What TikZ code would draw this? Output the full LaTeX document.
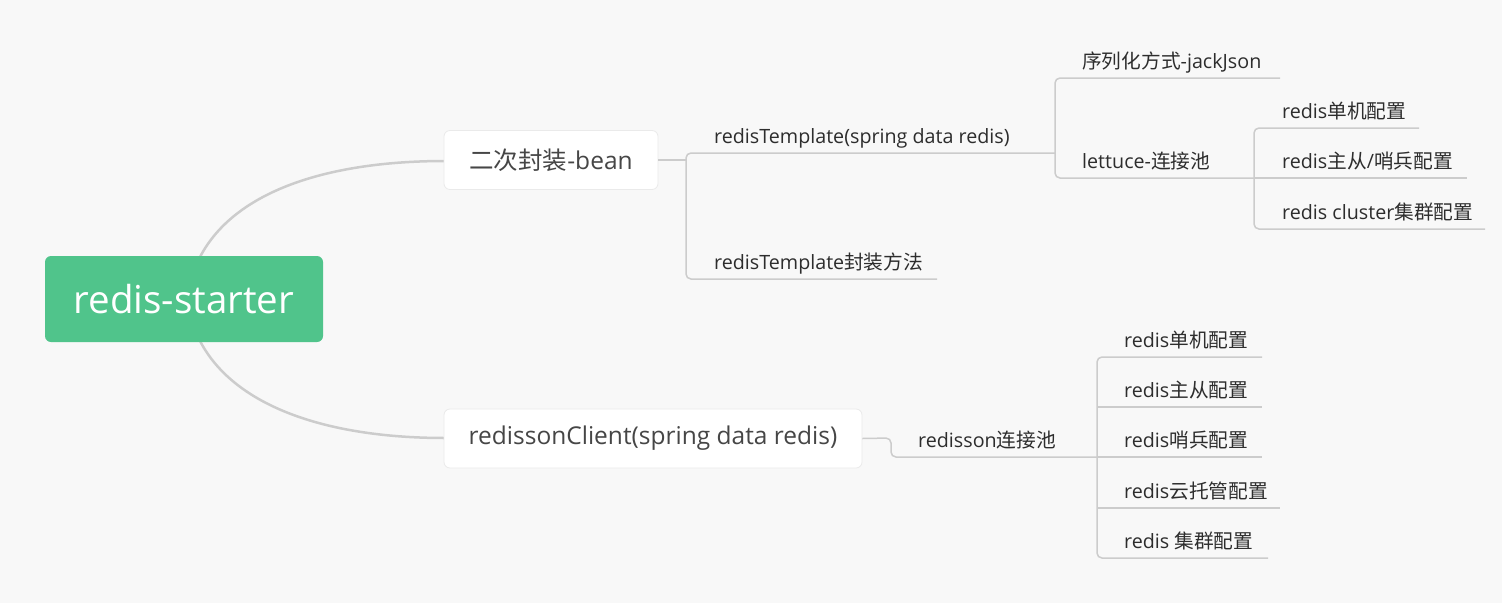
\documentclass[tikz,border=0pt]{standalone}
\usepackage{fontspec}
\setmainfont{Open Sans}
\newfontfamily\cjk{Noto Sans CJK SC}
\definecolor{bg}{RGB}{248,248,248}
\definecolor{rootgreen}{RGB}{80,196,139}
\definecolor{linegray}{RGB}{204,204,204}
\definecolor{txt}{RGB}{45,45,45}
\definecolor{boxtxt}{RGB}{70,70,70}
\definecolor{boxedge}{RGB}{234,234,234}
\begin{document}
\begin{tikzpicture}[x=1pt,y=-1pt,
  rootbox/.style={fill=rootgreen,rounded corners=6pt,minimum width=278pt,minimum height=86pt,inner sep=0pt,text=white,font=\fontsize{38.5}{42}\selectfont},
  topicbox/.style={fill=white,draw=boxedge,line width=0.8pt,rounded corners=6pt,minimum height=59pt,inner sep=0pt,text=boxtxt,font=\fontsize{24.5}{28}\selectfont},
  lbl/.style={anchor=base west,inner sep=0pt,text=txt,font=\fontsize{19.7}{22}\selectfont},
  curve/.style={draw=linegray,line width=2.5pt},
  branch/.style={draw=linegray,line width=1.5pt,rounded corners=5pt}]
\fill[bg] (0,0) rectangle (1502,603);
\useasboundingbox (0,0) rectangle (1502,603);

% coordinates for curve starts
\coordinate (r1) at (200,257);
\coordinate (r2) at (200,341);

% root curves (behind nodes)
\coordinate (b1w) at (445,161);
\coordinate (b2w) at (445,438);
\draw[curve] (r1) .. controls (235,190) and (330,161) .. (b1w);
\draw[curve] (r2) .. controls (235,408) and (330,438) .. (b2w);

% nodes
\node[rootbox] (root) at (184,299) {redis-starter};
\node[topicbox,minimum width=214pt] (b1) at (551,160) {{\cjk 二次封装}-bean};
\node[topicbox,minimum width=418pt] (b2) at (653,438.5) {redissonClient(spring data redis)};

% level 2 labels (upper)
\node[lbl] (t1) at (714,143) {redisTemplate(spring data redis)};
\node[lbl] (t2) at (714,269) {redisTemplate{\cjk 封装方法}};
% level 3
\node[lbl] (s1) at (1082,68) {{\cjk 序列化方式}-jackJson};
\node[lbl] (s2) at (1082,168) {lettuce-{\cjk 连接池}};
% level 4
\node[lbl] (c1) at (1282,118) {redis{\cjk 单机配置}};
\node[lbl] (c2) at (1282,168) {redis{\cjk 主从}/{\cjk 哨兵配置}};
\node[lbl] (c3) at (1282,219) {redis cluster{\cjk 集群配置}};

% lower
\node[lbl] (p1) at (918,447) {redisson{\cjk 连接池}};
\node[lbl] (q1) at (1124,347) {redis{\cjk 单机配置}};
\node[lbl] (q2) at (1124,397) {redis{\cjk 主从配置}};
\node[lbl] (q3) at (1124,447) {redis{\cjk 哨兵配置}};
\node[lbl] (q4) at (1124,498) {redis{\cjk 云托管配置}};
\node[lbl] (q5) at (1124,548) {redis {\cjk 集群配置}};

% branch coordinates
\coordinate (ja) at (686,160);
\coordinate (t1e) at (1055,153);
\coordinate (t2e) at (937,279);
\coordinate (s1e) at (1280,78);
\coordinate (s2e) at (1254,178);
\coordinate (c1e) at (1419,128);
\coordinate (c2e) at (1467,178);
\coordinate (c3e) at (1485,229);
\coordinate (pj) at (891,438);
\coordinate (p1e) at (1097,457);
\coordinate (q1e) at (1262,357);
\coordinate (q2e) at (1262,407);
\coordinate (q3e) at (1262,457);
\coordinate (q4e) at (1280,508);
\coordinate (q5e) at (1268,558);

% upper branches
\draw[branch] (b1.east) -- (ja);
\draw[branch] (t1e) -- (686,153) -- (686,279) -- (t2e);
\draw[branch] (s1e) -- (1055,78) -- (1055,178) -- (s2e);
\draw[branch] (c1e) -- (1254,128) -- (1254,229) -- (c3e);
\draw[branch] (s2e) -- (c2e);

% lower branches
\draw[branch] (b2.east) -- (pj) -- (891,457) -- (p1e);
\draw[branch] (q1e) -- (1097,357) -- (1097,558) -- (q5e);
\draw[branch] (1097,407) -- (q2e);
\draw[branch] (p1e) -- (q3e);
\draw[branch] (1097,508) -- (q4e);
\end{tikzpicture}
\end{document}
